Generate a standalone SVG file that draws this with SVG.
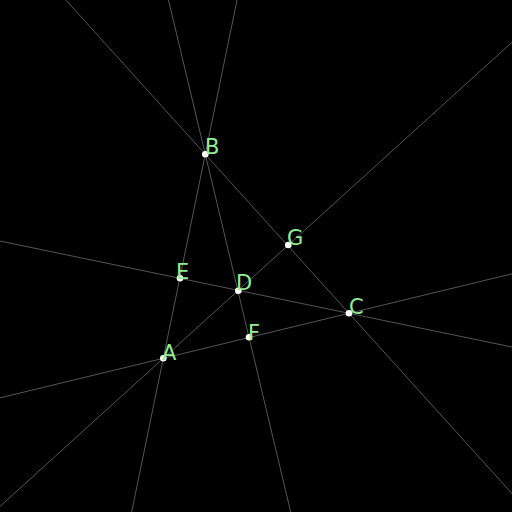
<svg xmlns="http://www.w3.org/2000/svg" width="512" height="512" viewBox="0 0 512 512">
<style>
.ln{stroke:#8f8f8f;stroke-width:0.6;fill:none}
.pt{fill:#ffffff}
.lb{fill:#90ee90;font-family:"DejaVu Sans",sans-serif;font-size:21px}
</style>
<rect width="512" height="512" fill="#000"/>
<g id="connectors">
<line class="ln" x1="56.8" y1="-10" x2="522" y2="504.7"/>
<line class="ln" x1="-10" y1="400.3" x2="522" y2="271.4"/>
<line class="ln" x1="239.1" y1="-10" x2="129.6" y2="522"/>
<line class="ln" x1="166.1" y1="-10" x2="293.1" y2="522"/>
<line class="ln" x1="-10" y1="239" x2="522" y2="349.1"/>
<line class="ln" x1="-10" y1="515.4" x2="522" y2="33.2"/>
</g>
<g id="A"><circle class="pt" cx="163.3" cy="358.3" r="3.3"/><text class="lb" x="162" y="360">A</text></g>
<g id="B"><circle class="pt" cx="205.3" cy="154.3" r="3.3"/><text class="lb" x="205" y="154">B</text></g>
<g id="C"><circle class="pt" cx="349" cy="313.3" r="3.3"/><text class="lb" x="349" y="314">C</text></g>
<g id="D"><circle class="pt" cx="238.3" cy="290.7" r="3.3"/><text class="lb" x="236" y="290">D</text></g>
<g id="E"><circle class="pt" cx="180" cy="278.3" r="3.3"/><text class="lb" x="176" y="279">E</text></g>
<g id="F"><circle class="pt" cx="249" cy="337.3" r="3.3"/><text class="lb" x="248" y="340">F</text></g>
<g id="G"><circle class="pt" cx="288.3" cy="245" r="3.3"/><text class="lb" x="287" y="245">G</text></g>
</svg>
